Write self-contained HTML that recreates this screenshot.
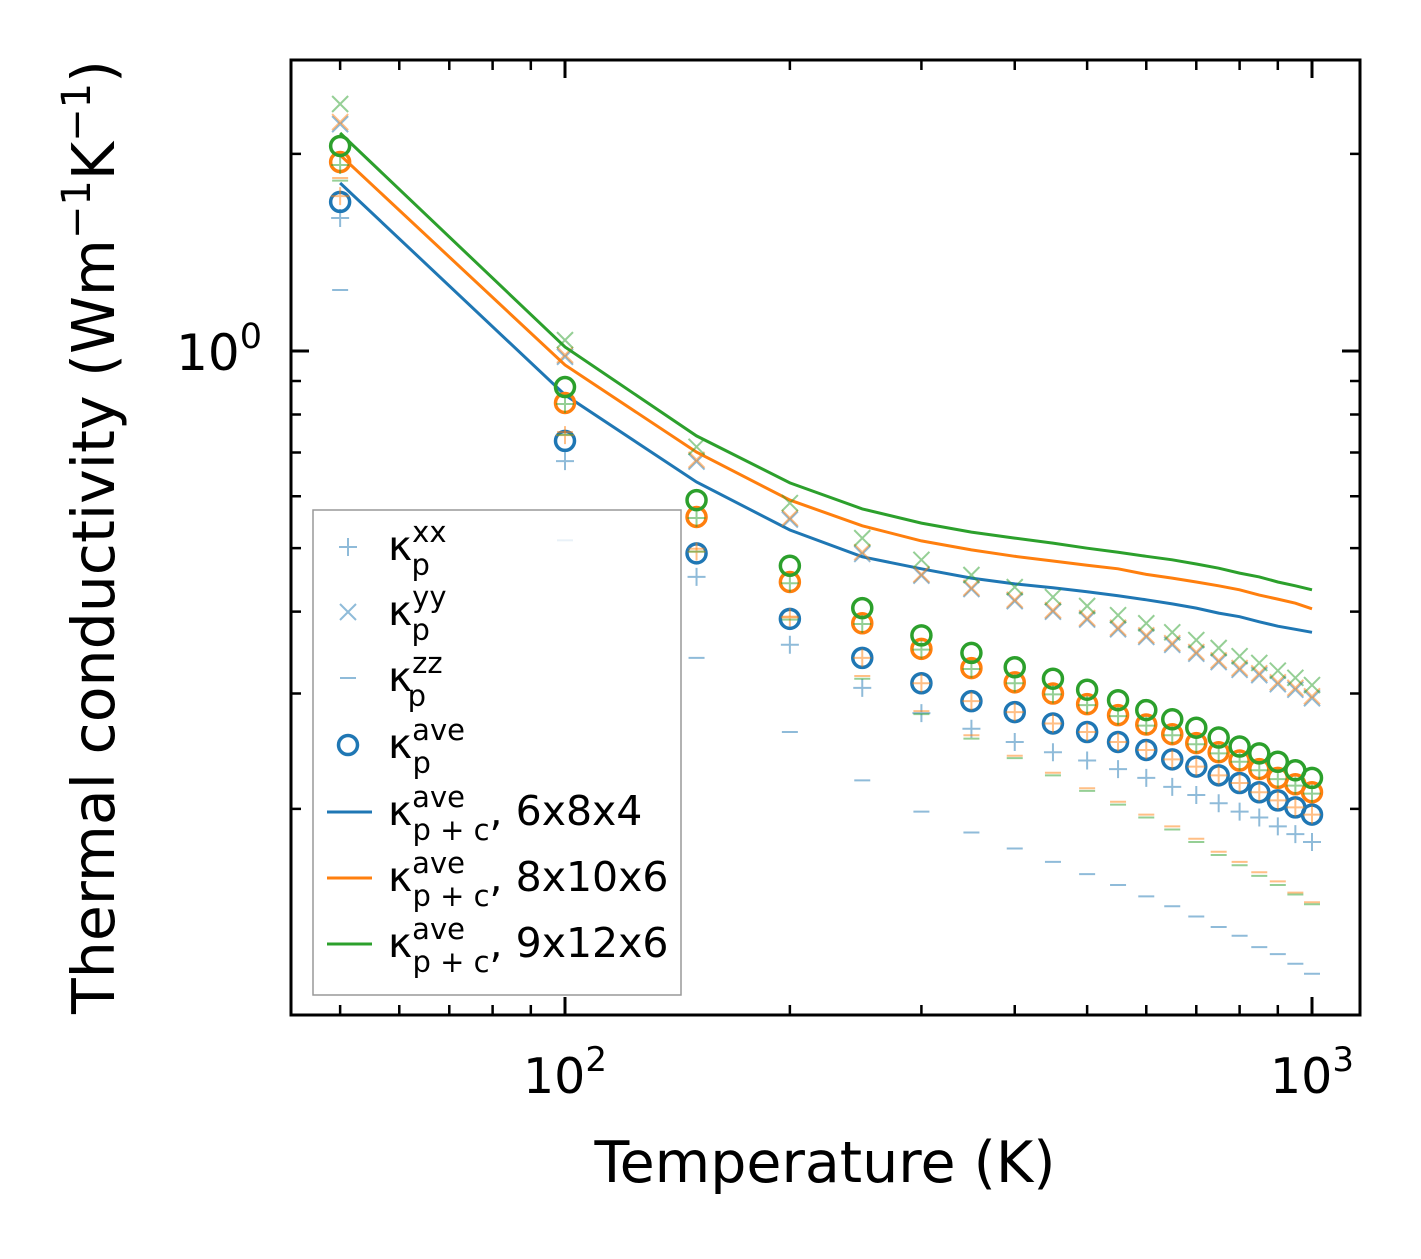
<!DOCTYPE html>
<html><head><meta charset="utf-8">
<style>
html,body{margin:0;padding:0;background:#fff;}
svg text{font-family:"DejaVu Sans","Liberation Sans",sans-serif;fill:#000;}
</style></head>
<body>
<svg id="chart" width="1421" height="1254" viewBox="0 0 1421 1254" xmlns="http://www.w3.org/2000/svg">
<rect x="0" y="0" width="1421" height="1254" fill="#fff"/>
<g id="marks"></g>
<g id="axes"></g>
<text x="825" y="1182" font-size="57" text-anchor="middle">Temperature (K)</text>
<text transform="translate(114,537) rotate(-90)" font-size="58.5" text-anchor="middle">Thermal conductivity (Wm<tspan font-size="40" dy="-24">−1</tspan><tspan dy="24">K</tspan><tspan font-size="40" dy="-24">−1</tspan><tspan dy="24">)</tspan></text>
<g id="legend"></g>
</svg>
<script>
const temps = [50,100,150,200,250,300,350,400,450,500,550,600,650,700,750,800,850,900,950,1000];

const blueXX = [1.596,0.679,0.452,0.356,0.306,0.280,0.265,0.253,0.244,0.237,0.230,0.223,0.216,0.210,0.204,0.198,0.194,0.188,0.183,0.178];
const blueYY = [2.22,0.98,0.678,0.553,0.490,0.454,0.433,0.415,0.400,0.389,0.376,0.366,0.356,0.345,0.335,0.326,0.320,0.310,0.304,0.295];
const blueZZ = [1.239,0.514,0.340,0.262,0.221,0.198,0.184,0.174,0.166,0.159,0.153,0.147,0.142,0.137,0.132,0.128,0.123,0.120,0.116,0.112];
const blueAve = [1.689,0.729,0.491,0.390,0.340,0.311,0.292,0.281,0.270,0.262,0.253,0.246,0.238,0.232,0.225,0.219,0.212,0.206,0.201,0.196];
const blueLine = [1.805,0.857,0.631,0.533,0.485,0.465,0.450,0.441,0.435,0.429,0.423,0.417,0.411,0.405,0.398,0.393,0.386,0.380,0.376,0.372];

const orangeXX = [1.724,0.744,0.494,0.392,0.340,0.311,0.292,0.281,0.270,0.262,0.253,0.246,0.238,0.232,0.225,0.219,0.212,0.206,0.201,0.196];
const orangeYY = [2.236,0.986,0.682,0.556,0.493,0.456,0.435,0.417,0.402,0.391,0.378,0.368,0.358,0.347,0.337,0.328,0.322,0.312,0.306,0.297];
const orangeZZ = [1.837,0.752,0.499,0.393,0.319,0.282,0.259,0.241,0.227,0.215,0.205,0.196,0.188,0.180,0.172,0.166,0.160,0.155,0.149,0.144];
const orangeAve = [1.943,0.833,0.558,0.444,0.384,0.351,0.328,0.312,0.300,0.289,0.278,0.269,0.260,0.252,0.244,0.237,0.230,0.223,0.218,0.212];
const orangeLine = [1.992,0.952,0.701,0.592,0.541,0.513,0.497,0.486,0.478,0.471,0.465,0.456,0.450,0.444,0.438,0.432,0.424,0.418,0.412,0.404];

const greenXX = [1.923,0.830,0.556,0.442,0.383,0.350,0.327,0.311,0.299,0.288,0.277,0.268,0.259,0.251,0.243,0.236,0.229,0.222,0.217,0.211];
const greenYY = [2.383,1.039,0.714,0.586,0.518,0.480,0.455,0.436,0.421,0.408,0.395,0.384,0.372,0.362,0.352,0.342,0.334,0.325,0.317,0.309];
const greenZZ = [1.820,0.745,0.494,0.389,0.316,0.279,0.256,0.239,0.225,0.213,0.203,0.194,0.186,0.178,0.170,0.164,0.158,0.153,0.148,0.143];
const greenAve = [2.056,0.881,0.592,0.470,0.405,0.368,0.346,0.329,0.316,0.304,0.293,0.283,0.274,0.266,0.257,0.249,0.243,0.236,0.229,0.223];
const greenLine = [2.152,1.014,0.742,0.629,0.574,0.546,0.529,0.518,0.509,0.500,0.493,0.486,0.480,0.473,0.466,0.458,0.452,0.444,0.438,0.432];

const xMinorTicks = [50,60,70,80,90,200,300,400,500,600,700,800,900];
const xMajorTicks = [100,1000];
const xMajorLabels = ["2","3"];
const yMinorTicks = [0.2,0.3,0.4,0.5,0.6,0.7,0.8,0.9,2];
const yMajorTicks = [1];
const yMajorLabels = ["0"];

const NS = "http://www.w3.org/2000/svg";
const L = 291, R = 1360, T = 60, B = 1015;
function xs(t){ return 565 + 747*Math.log10(t/100); }
function ys(v){ return 351 - 655*Math.log10(v); }
function mk(tag, attrs, parent){
  const e = document.createElementNS(NS, tag);
  for (const k in attrs) e.setAttribute(k, attrs[k]);
  parent.appendChild(e);
  return e;
}
const marks = document.getElementById('marks');
const axes = document.getElementById('axes');
const legend = document.getElementById('legend');

function plus(g, x, y, c){
  return mk('path', {d:`M${x-9},${y}H${x+9}M${x},${y-9}V${y+9}`, stroke:c, 'stroke-width':2, 'stroke-opacity':0.5, fill:'none'}, g);
}
function cross(g, x, y, c){
  return mk('path', {d:`M${x-8},${y-8}L${x+8},${y+8}M${x-8},${y+8}L${x+8},${y-8}`, stroke:c, 'stroke-width':2, 'stroke-opacity':0.5, fill:'none'}, g);
}
function dash(g, x, y, c){
  return mk('path', {d:`M${x-8},${y}H${x+8}`, stroke:c, 'stroke-width':2, 'stroke-opacity':0.5, fill:'none'}, g);
}
function circ(g, x, y, c){
  return mk('circle', {cx:x, cy:y, r:9.5, stroke:c, 'stroke-width':3.5, fill:'none'}, g);
}

const sets = [
  {name:'6x8x4', c:'#1f77b4', xx:blueXX, yy:blueYY, zz:blueZZ, ave:blueAve, line:blueLine},
  {name:'8x10x6', c:'#ff7f0e', xx:orangeXX, yy:orangeYY, zz:orangeZZ, ave:orangeAve, line:orangeLine},
  {name:'9x12x6', c:'#2ca02c', xx:greenXX, yy:greenYY, zz:greenZZ, ave:greenAve, line:greenLine}
];
sets.forEach(s => {
  const g = mk('g', {}, marks);
  
  
  temps.forEach((t,i) => {
    const a = plus(g, xs(t), ys(s.xx[i]), s.c);
    
    
    const b = cross(g, xs(t), ys(s.yy[i]), s.c);
    
    
    const d = dash(g, xs(t), ys(s.zz[i]), s.c);
    
    
    const o = circ(g, xs(t), ys(s.ave[i]), s.c);
    
    
  });
  const pts = temps.map((t,i) => xs(t).toFixed(1) + ',' + ys(s.line[i]).toFixed(1)).join(' ');
  const pl = mk('polyline', {points:pts, stroke:s.c, 'stroke-width':3, fill:'none'}, g);
  
  
});

const frame = mk('rect', {x:L, y:T, width:R-L, height:B-T, fill:'none', stroke:'#000', 'stroke-width':3}, axes);


xMinorTicks.forEach(t => {
  const x = xs(t);
  const tk = mk('path', {d:`M${x},${B}v-10M${x},${T}v10`, stroke:'#000', 'stroke-width':2.5}, axes);
  
  
});
xMajorTicks.forEach((t,i) => {
  const x = xs(t);
  const tk = mk('path', {d:`M${x},${B}v-18M${x},${T}v18`, stroke:'#000', 'stroke-width':3}, axes);
  
  
  const tx = mk('text', {x:x, y:1093, 'font-size':49, 'text-anchor':'middle'}, axes);
  
  
  tx.innerHTML = '10<tspan font-size="34" dy="-22">' + xMajorLabels[i] + '</tspan>';
});
yMinorTicks.forEach(v => {
  const y = ys(v);
  const tk = mk('path', {d:`M${L},${y}h10M${R},${y}h-10`, stroke:'#000', 'stroke-width':2.5}, axes);
  
  
});
yMajorTicks.forEach((v,i) => {
  const y = ys(v);
  const tk = mk('path', {d:`M${L},${y}h18M${R},${y}h-18`, stroke:'#000', 'stroke-width':3}, axes);
  
  
  const tx = mk('text', {x:262, y:y+19, 'font-size':50, 'text-anchor':'end'}, axes);
  
  
  tx.innerHTML = '10<tspan font-size="35" dy="-22">' + yMajorLabels[i] + '</tspan>';
});

const lbox = mk('rect', {x:313, y:510, width:368, height:485, fill:'#fff', 'fill-opacity':0.8, stroke:'#999', 'stroke-width':1.5}, legend);


const legendSups = ['xx','yy','zz','ave','ave','ave','ave'];
const legendSubs = ['p','p','p','p','p + c','p + c','p + c'];
const legendTails = ['','','','',', 6x8x4',', 8x10x6',', 9x12x6'];
const ly = [547,612,678,745,812,878,944];
ly.forEach((y,i) => {
  const g = mk('g', {}, legend);
  
  
  const c = '#1f77b4';
  if (i===0) plus(g,348,y,c);
  else if (i===1) cross(g,348,y,c);
  else if (i===2) dash(g,348,y,c);
  else if (i===3) circ(g,348,y,c);
  else mk('path', {d:`M327,${y}H372`, stroke:sets[i-4].c, 'stroke-width':3}, g);
  const tx = mk('text', {x:388, y:y+13, 'font-size':41}, g);
  tx.innerHTML = 'κ<tspan font-size="29" dy="-18">' + legendSups[i] + '</tspan><tspan font-size="29" dx="-' + (legendSups[i].length*17.5) + '" dy="33">' + legendSubs[i] + '</tspan><tspan dy="-15">' + legendTails[i] + '</tspan>';
});
</script>
</body></html>
